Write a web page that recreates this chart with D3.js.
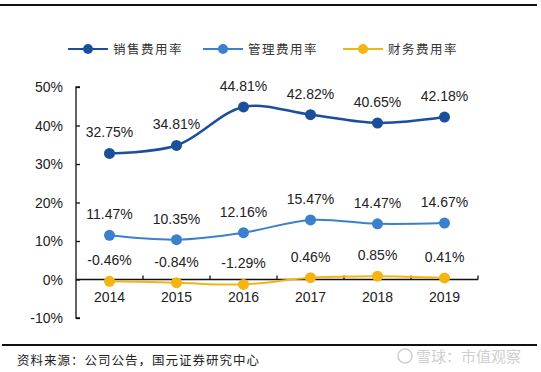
<!DOCTYPE html>
<html>
<head>
<meta charset="utf-8">
<script src="https://cdn.jsdelivr.net/npm/d3@7"></script>
<style>
  body { margin: 0; background: #fff; }
  svg { display: block; }
</style>
</head>
<body>
<svg id="chart" width="541" height="372"></svg>
<script>
// data
const years = ["2014", "2015", "2016", "2017", "2018", "2019"];
const salesRate = [32.75, 34.81, 44.81, 42.82, 40.65, 42.18];
const adminRate = [11.47, 10.35, 12.16, 15.47, 14.47, 14.67];
const financeRate = [-0.46, -0.84, -1.29, 0.46, 0.85, 0.41];
const seriesNames = ["销售费用率", "管理费用率", "财务费用率"];
const yTicks = [-10, 0, 10, 20, 30, 40, 50];

const colors = ["#1b4f9c", "#3a80cc", "#f4b513"];
const series = [salesRate, adminRate, financeRate];

const svg = d3.select("#chart");
const numFont = "'Liberation Sans', Arial, sans-serif";
const cjkFont = "'Noto Sans CJK SC', sans-serif";

// frame lines top and bottom
svg.append("line").attr("x1", 0).attr("x2", 537).attr("y1", 5).attr("y2", 5)
  .attr("stroke", "#111").attr("stroke-width", 2);
svg.append("line").attr("x1", 2).attr("x2", 537).attr("y1", 345).attr("y2", 345)
  .attr("stroke", "#111").attr("stroke-width", 2);

const x = d3.scaleBand().domain(years).range([76, 478]);
const y = d3.scaleLinear().domain([-10, 50]).range([318, 87]);

const g = svg.append("g");

// y axis, ticks pointing inwards
const yAxis = g.append("g").attr("transform", "translate(76,0)")
  .call(d3.axisRight(y).tickValues(yTicks).tickSize(4).tickFormat(""));
yAxis.select(".domain").attr("d", `M4,${y(50)}H0V${y(-10)}H4`).attr("stroke", "#111").attr("stroke-width", 1.3);
yAxis.selectAll(".tick line").attr("stroke", "#111").attr("stroke-width", 1.3);

g.selectAll(".ylab").data(yTicks).enter().append("text")
  .attr("x", 63).attr("y", (d) => y(d) + 5)
  .attr("text-anchor", "end")
  .attr("font-family", numFont).attr("font-size", 14).attr("fill", "#222")
  .text((d) => d + "%");

// x axis along zero, ticks at category boundaries pointing up
const bounds = years.map((d) => x(d) + x.bandwidth());
g.append("line").attr("x1", 76).attr("x2", 478).attr("y1", y(0)).attr("y2", y(0))
  .attr("stroke", "#111").attr("stroke-width", 1.3);
g.selectAll(".xtick").data(bounds).enter().append("line")
  .attr("x1", (d) => d).attr("x2", (d) => d)
  .attr("y1", y(0)).attr("y2", y(0) - 4)
  .attr("stroke", "#111").attr("stroke-width", 1.3);
g.selectAll(".xlab").data(years).enter().append("text")
  .attr("x", (d) => x(d) + x.bandwidth() / 2).attr("y", 302)
  .attr("text-anchor", "middle")
  .attr("font-family", numFont).attr("font-size", 14).attr("fill", "#222")
  .text((d) => d);

// smoothed lines with markers and value labels
const line = d3.line()
  .x((d, i) => x(years[i]) + x.bandwidth() / 2)
  .y((d) => y(d))
  .curve(d3.curveCatmullRom.alpha(0.5));

series.forEach((vals, k) => {
  g.append("path").datum(vals)
    .attr("d", line)
    .attr("fill", "none")
    .attr("stroke", colors[k])
    .attr("stroke-width", k === 0 ? 2.5 : 2);

  g.selectAll(`.dot-${k}`).data(vals).enter().append("circle")
    .attr("cx", (d, i) => x(years[i]) + x.bandwidth() / 2)
    .attr("cy", (d) => y(d))
    .attr("r", 5.5)
    .attr("fill", colors[k]);

  g.selectAll(`.lab-${k}`).data(vals).enter().append("text")
    .attr("x", (d, i) => x(years[i]) + x.bandwidth() / 2)
    .attr("y", (d) => y(d) - 16)
    .attr("text-anchor", "middle")
    .attr("font-family", numFont).attr("font-size", 14).attr("fill", "#222")
    .text((d) => d.toFixed(2) + "%");
});

// legend
const legendX = [68, 203, 343];
seriesNames.forEach((name, k) => {
  const lg = svg.append("g").attr("transform", `translate(${legendX[k]},49)`);
  lg.append("line").attr("x1", 0).attr("x2", 40).attr("y1", 0).attr("y2", 0)
    .attr("stroke", colors[k]).attr("stroke-width", 2);
  lg.append("circle").attr("cx", 20).attr("cy", 0).attr("r", 5).attr("fill", colors[k]);
  lg.append("text").attr("x", 45).attr("y", 5)
    .attr("font-family", cjkFont).attr("font-size", 12.5)
    .attr("letter-spacing", 1.5).attr("fill", "#333")
    .text(name);
});

// source note and watermark
svg.append("text").attr("x", 17).attr("y", 365)
  .attr("font-family", cjkFont).attr("font-size", 12.5)
  .attr("letter-spacing", 1).attr("fill", "#222")
  .text("资料来源：公司公告，国元证券研究中心");
svg.append("text").attr("x", 416).attr("y", 362)
  .attr("font-family", cjkFont).attr("font-size", 15).attr("fill", "#cfcfcf")
  .text("雪球：市值观察");
svg.append("circle").attr("cx", 405).attr("cy", 356).attr("r", 7)
  .attr("fill", "none").attr("stroke", "#cfcfcf").attr("stroke-width", 1.5);
</script>
</body>
</html>
